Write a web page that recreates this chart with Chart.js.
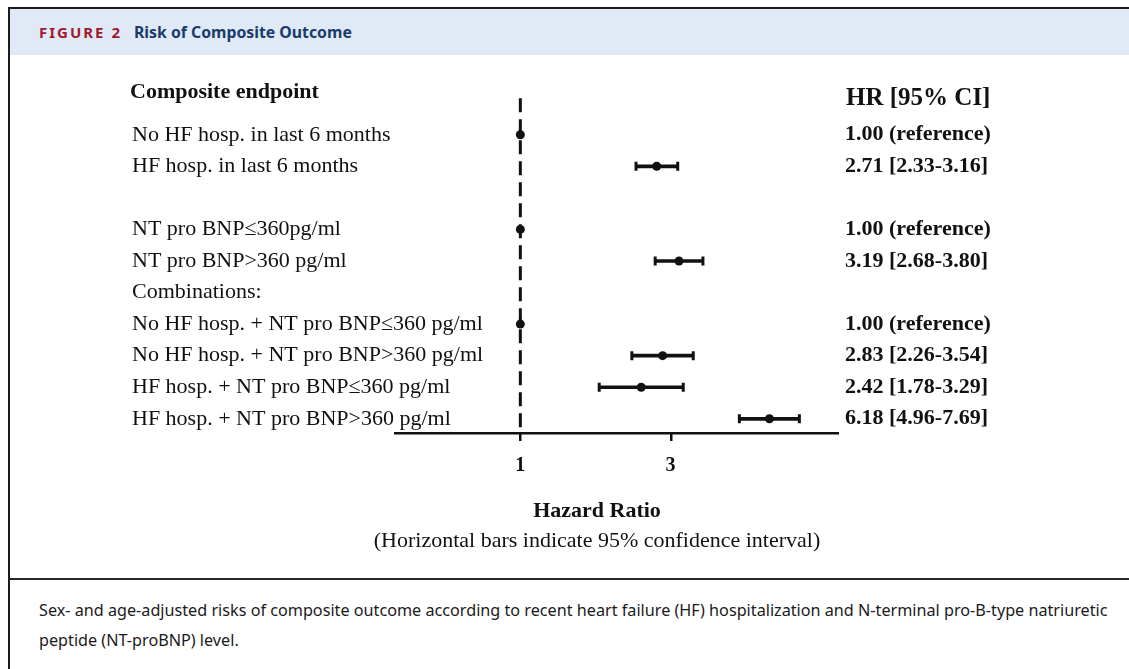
<!DOCTYPE html>
<html>
<head>
<meta charset="utf-8">
<script src="https://cdn.jsdelivr.net/npm/chart.js@4.4.1/dist/chart.umd.min.js"></script>
<style>
    html, body { margin: 0; padding: 0; background: #fff; }
    body { width: 1129px; height: 669px; overflow: hidden; position: relative; }
    #frame {
        position: absolute; left: 8px; top: 7px; width: 1140px; height: 680px;
        border-left: 2px solid #1c1c1c; border-top: 2px solid #1c1c1c;
    }
    #header {
        position: absolute; left: 0; top: 0; right: 0; height: 46px;
        background: #dfeaf6; white-space: nowrap;
    }
    #header .fig {
        position: absolute; left: 29px; top: 0;
        font: 700 15px "Noto Sans", sans-serif; line-height: 46px;
        letter-spacing: 2px; color: #a01830;
    }
    #header .title {
        position: absolute; left: 124px; top: 0;
        font: 700 15.8px "Noto Sans", sans-serif; line-height: 46px; color: #1b3b6b;
    }
    #sep { position: absolute; left: 0; top: 569px; width: 1140px; height: 2px; background: #262626; }
    #caption {
        position: absolute; left: 29px; top: 586px; width: 1082px;
        font: 400 16.2px "Noto Sans", sans-serif; line-height: 30px; color: #1a1a1a;
    }
    #chartBox { position: absolute; left: 10px; top: 56px; width: 1119px; height: 522px; }
</style>
</head>
<body>
<div id="frame">
    <div id="header"><span class="fig">FIGURE 2</span><span class="title">Risk of Composite Outcome</span></div>
    <div id="sep"></div>
    <div id="caption">Sex- and age-adjusted risks of composite outcome according to recent heart failure (HF) hospitalization and N-terminal pro-B-type natriuretic peptide (NT-proBNP) level.</div>
</div>
<div id="chartBox"><canvas id="forest" width="1119" height="522"></canvas></div>

<script>
// rows from top to bottom (blank row = spacer)
const rowLabels = [
    'No HF hosp. in last 6 months',
    'HF hosp. in last 6 months',
    '',
    'NT pro BNP\u2264360pg/ml',
    'NT pro BNP>360 pg/ml',
    'Combinations:',
    'No HF hosp. + NT pro BNP\u2264360 pg/ml',
    'No HF hosp. + NT pro BNP>360 pg/ml',
    'HF hosp. + NT pro BNP\u2264360 pg/ml',
    'HF hosp. + NT pro BNP>360 pg/ml'
];
const hazardRatio = [1.00, 2.71, null, 1.00, 3.19, null, 1.00, 2.83, 2.42, 6.18];
const ciLow  = [null, 2.33, null, null, 2.68, null, null, 2.26, 1.78, 4.96];
const ciHigh = [null, 3.16, null, null, 3.80, null, null, 3.54, 3.29, 7.69];
const hrLabels = [
    '1.00 (reference)',
    '2.71 [2.33-3.16]',
    '',
    '1.00 (reference)',
    '3.19 [2.68-3.80]',
    '',
    '1.00 (reference)',
    '2.83 [2.26-3.54]',
    '2.42 [1.78-3.29]',
    '6.18 [4.96-7.69]'
];
const xTicks = [1, 3];
const referenceHR = 1;

const INK = '#111';
const SERIF = '"Liberation Serif", "Times New Roman", serif';

const rowPos = i => i + 1;

const pointData = hazardRatio
    .map((v, i) => (v == null ? null : { x: v, y: rowPos(i) }))
    .filter(p => p);
const ciData = hazardRatio
    .map((v, i) => (ciLow[i] == null ? null : { x: [ciLow[i], ciHigh[i]], y: rowPos(i) }))
    .filter(p => p);
const capData = [];
ciLow.forEach((lo, i) => {
    if (lo == null) return;
    capData.push({ x: lo, y: rowPos(i) });
    capData.push({ x: ciHigh[i], y: rowPos(i) });
});

const textPlugin = {
    id: 'forestText',
    afterDraw(chart) {
        const ctx = chart.ctx;
        const xScale = chart.scales.x;
        const yScale = chart.scales.y;
        const axisY = chart.chartArea.bottom;
        ctx.save();
        ctx.setLineDash([]);

        // small tick marks under the axis line
        ctx.fillStyle = INK;
        xTicks.forEach(v => {
            const px = Math.round(xScale.getPixelForValue(v));
            ctx.fillRect(px - 1, axisY, 2.5, 8);
        });

        ctx.textBaseline = 'middle';
        ctx.textAlign = 'left';

        ctx.font = 'bold 22px ' + SERIF;
        ctx.fillText('Composite endpoint', 120, 36);
        ctx.font = 'bold 25px ' + SERIF;
        ctx.fillText('HR [95% CI]', 836, 43);

        ctx.font = '22px ' + SERIF;
        rowLabels.forEach((t, i) => {
            if (t) ctx.fillText(t, 122, yScale.getPixelForValue(rowPos(i)));
        });
        ctx.font = 'bold 22px ' + SERIF;
        hrLabels.forEach((t, i) => {
            if (t) ctx.fillText(t, 835, yScale.getPixelForValue(rowPos(i)));
        });

        ctx.textAlign = 'center';
        ctx.font = 'bold 22px ' + SERIF;
        ctx.fillText('Hazard Ratio', 587, 455);
        ctx.font = '22px ' + SERIF;
        ctx.fillText('(Horizontal bars indicate 95% confidence interval)', 587, 485);
        ctx.restore();
    }
};

new Chart(document.getElementById('forest'), {
    type: 'bar',
    data: {
        datasets: [
            {
                type: 'line',
                data: [{ x: referenceHR, y: -0.16 }, { x: referenceHR, y: 10.45 }],
                borderColor: INK,
                borderWidth: 3,
                borderDash: [14, 7],
                pointRadius: 0,
                order: 4
            },
            {
                type: 'bar',
                indexAxis: 'y',
                data: ciData,
                backgroundColor: INK,
                borderWidth: 0,
                barThickness: 3,
                order: 3
            },
            {
                type: 'scatter',
                data: capData,
                pointStyle: 'line',
                rotation: 90,
                pointRadius: 4.5,
                borderWidth: 3,
                borderColor: INK,
                order: 2
            },
            {
                type: 'scatter',
                data: pointData,
                pointStyle: 'circle',
                pointRadius: 4.5,
                backgroundColor: INK,
                borderWidth: 0,
                order: 1
            }
        ]
    },
    options: {
        responsive: false,
        animation: false,
        layout: { padding: { left: 385, right: 291, top: 31.4, bottom: 100 } },
        scales: {
            x: {
                type: 'logarithmic',
                min: 0.4,
                max: 10.2,
                offset: false,
                afterBuildTicks: scale => { scale.ticks = xTicks.map(v => ({ value: v })); },
                afterFit: scale => { scale.height = 45; },
                border: { display: true, color: INK, width: 2.5 },
                grid: { offset: false, drawOnChartArea: false, drawTicks: false },
                ticks: {
                    padding: 21,
                    color: INK,
                    font: { family: SERIF, size: 20, weight: 'bold' },
                    callback: v => String(v)
                }
            },
            y: {
                type: 'linear',
                reverse: true,
                min: -0.5,
                max: 10.45,
                offset: false,
                grid: { offset: false },
                display: false
            }
        },
        plugins: {
            legend: { display: false },
            tooltip: { enabled: false }
        }
    },
    plugins: [textPlugin]
});
</script>
</body>
</html>
